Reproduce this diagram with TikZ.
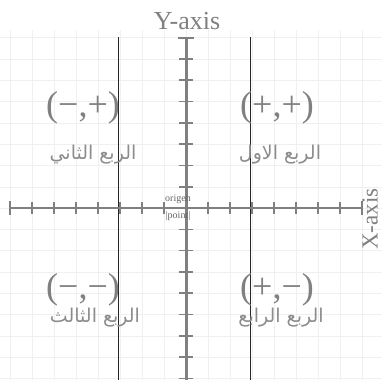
\documentclass[tikz,border=0pt]{standalone}
\usepackage{fontspec}
\setmainfont{Liberation Serif}
\newfontfamily\arabicfont[Script=Arabic]{DejaVu Sans}
\TeXXeTstate=1
\begin{document}
\begin{tikzpicture}[x=1pt,y=-1pt,
  axisline/.style={draw=black!50},
  tickmark/.style={draw=black!50,line width=1.6pt},
  divider/.style={draw=black!85,line width=0.7pt},
  sign/.style={text=black!50,font=\fontsize{36}{38}\selectfont,inner sep=0pt},
  qname/.style={text=black!45,font=\arabicfont\fontsize{19}{21}\selectfont,inner sep=0pt},
  axlabel/.style={text=black!50,font=\fontsize{26}{28}\selectfont,inner sep=0pt},
  tiny/.style={text=black!60,font=\fontsize{10}{11}\selectfont,inner sep=0pt}]
\useasboundingbox (0,0) rectangle (382,380);
\fill[white] (0,0) rectangle (382,380);
% faint grid
\foreach \i in {-8,...,8} \draw[black!6] ({186+22*\i},30) -- ({186+22*\i},380);
\foreach \j in {-8,...,8} \draw[black!6] (0,{208+21.3*\j}) -- (382,{208+21.3*\j});
% quadrant dividers
\coordinate (d1t) at (118,37); \coordinate (d1b) at (118,380);
\coordinate (d2t) at (250,37); \coordinate (d2b) at (250,380);
\draw[divider] (d1t) -- (d1b);
\draw[divider] (d2t) -- (d2b);
% x axis
\coordinate (xl) at (10,208); \coordinate (xr) at (362,208);
\draw[axisline,line width=2pt] (xl) -- (xr);
\foreach \i in {-8,...,-1,1,2,...,8} \draw[tickmark,line width=1.4pt] ({186+22*\i},202) -- ({186+22*\i},214);
\draw[tickmark,line width=2.4pt] (10,201) -- (10,215);
\draw[tickmark,line width=2.4pt] (362,201) -- (362,215);
% y axis
\coordinate (yt) at (186,38); \coordinate (yb) at (186,380);
\draw[axisline,line width=3pt] (yt) -- (yb);
\foreach \j in {-7,...,-1,1,2,...,8} \draw[tickmark] (179,{208+21.3*\j}) -- (193,{208+21.3*\j});
\draw[tickmark,line width=2.6pt] (178,38) -- (194,38);
% labels
\node[axlabel] (ylab) at (187,21) {Y-axis};
\node[axlabel,rotate=90,font=\fontsize{23}{25}\selectfont] (xlab) at (370,219) {X-axis};
\node[tiny] (org1) at (178,199) {origen};
\node[tiny] (org2) at (178,216) {|point|};
\node[sign] (q2) at (83,108) {(\textminus,+)};
\node[sign] (q1) at (277,108) {(+,+)};
\node[sign] (q3) at (83,290) {(\textminus,\textminus)};
\node[sign] (q4) at (277,290) {(+,\textminus)};
\node[qname] (n2) at (93,155) {\beginR الربع الثاني\endR};
\node[qname] (n1) at (280,155) {\beginR الربع الاول\endR};
\node[qname] (n3) at (95,318) {\beginR الربع الثالث\endR};
\node[qname] (n4) at (281,318) {\beginR الربع الرابع\endR};
\end{tikzpicture}
\end{document}
